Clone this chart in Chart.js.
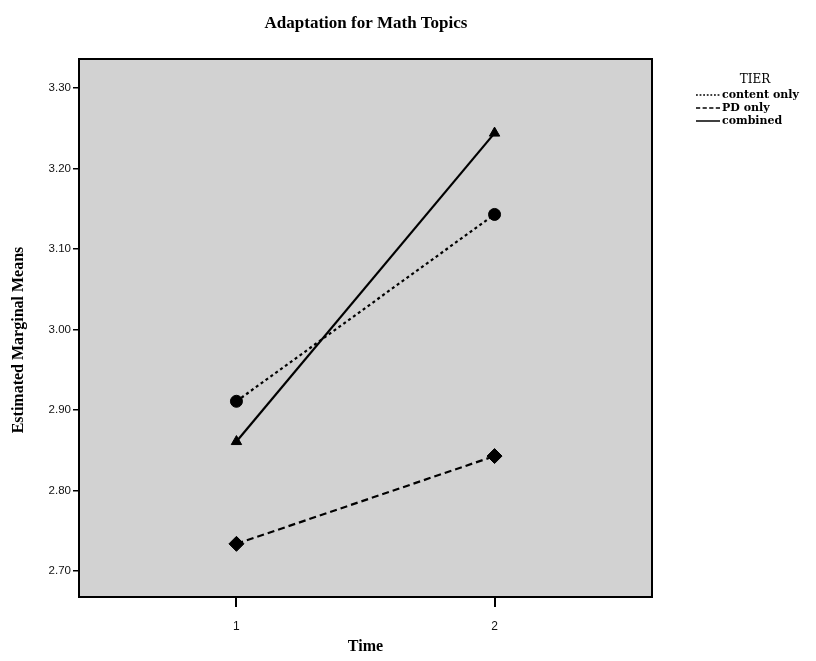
<!DOCTYPE html>
<html>
<head>
<meta charset="utf-8">
<script src="https://cdn.jsdelivr.net/npm/chart.js@4.4.1/dist/chart.umd.min.js"></script>
<style>
html,body{margin:0;padding:0;background:#fff;}
#wrap{width:816px;height:661px;position:relative;}
</style>
</head>
<body>
<div id="wrap"><canvas id="c" width="816" height="661"></canvas></div>
<script>
// ---- data ----
const chartTitle = 'Adaptation for Math Topics';
const xTitle = 'Time';
const yTitle = 'Estimated Marginal Means';
const legendTitle = 'TIER';
const timePoints = [1, 2];
const xTickLabels = ['1', '2'];
const yTickLabels = ['2.70', '2.80', '2.90', '3.00', '3.10', '3.20', '3.30'];
const seriesNames = ['content only', 'PD only', 'combined'];
const contentOnly = [2.911, 3.143];
const pdOnly = [2.734, 2.843];
const combined = [2.861, 3.244];

const styles = [
  {dash: [3, 3], point: 'circle', r: 6},
  {dash: [7, 4], point: 'rectRot', r: 7.5},
  {dash: [], point: 'triangle', r: 6}
];
const seriesValues = [contentOnly, pdOnly, combined];

const datasets = seriesNames.map((name, i) => ({
  label: name,
  data: timePoints.map((t, j) => ({x: t, y: seriesValues[i][j]})),
  borderColor: '#000',
  backgroundColor: '#000',
  borderWidth: 2.2,
  borderDash: styles[i].dash,
  pointStyle: styles[i].point,
  pointRadius: styles[i].r,
  pointBorderWidth: 1,
  showLine: true,
  fill: false,
  tension: 0
}));

const serif = '"Liberation Serif", "DejaVu Serif", serif';
const serif2 = '"DejaVu Serif", "Liberation Serif", serif';
const sans = '"Liberation Sans", Arial, sans-serif';

const decor = {
  id: 'decor',
  beforeDraw(chart) {
    const {ctx, chartArea: a} = chart;
    ctx.save();
    ctx.fillStyle = '#d2d2d2';
    ctx.fillRect(a.left, a.top, a.right - a.left, a.bottom - a.top);
    ctx.restore();
  },
  afterDraw(chart) {
    const {ctx, chartArea: a} = chart;
    ctx.save();
    ctx.strokeStyle = '#000';
    ctx.lineWidth = 2;
    ctx.setLineDash([]);
    ctx.strokeRect(a.left, a.top, a.right - a.left, a.bottom - a.top);
    // title
    ctx.fillStyle = '#000';
    ctx.font = 'bold 17px ' + serif;
    ctx.textAlign = 'center';
    ctx.textBaseline = 'middle';
    ctx.fillText(chartTitle, 366, 24);
    // y title
    ctx.save();
    ctx.translate(19, 340);
    ctx.rotate(-Math.PI / 2);
    ctx.font = 'bold 16px ' + serif;
    ctx.fillText(yTitle, 0, 0);
    ctx.restore();
    // legend
    ctx.font = '12px ' + serif2;
    ctx.fillText(legendTitle, 755, 80);
    ctx.font = 'bold 11px ' + serif2;
    ctx.textAlign = 'left';
    seriesNames.forEach((n, i) => {
      const y = 95 + i * 13;
      ctx.beginPath();
      ctx.lineWidth = 1.5;
      ctx.setLineDash(styles[i].dash.map(v => Math.max(1.5, v * 0.6)));
      ctx.moveTo(696, y);
      ctx.lineTo(720, y);
      ctx.stroke();
      ctx.setLineDash([]);
      ctx.fillText(n, 722, y);
    });
    ctx.restore();
  }
};

new Chart(document.getElementById('c'), {
  type: 'scatter',
  data: {datasets},
  options: {
    responsive: false,
    animation: false,
    devicePixelRatio: 1,
    layout: {padding: {left: 0, right: 164, top: 59, bottom: 0}},
    plugins: {legend: {display: false}, title: {display: false}, tooltip: {enabled: false}},
    scales: {
      x: {
        type: 'linear',
        min: 0.39,
        max: 2.61,
        afterBuildTicks: s => { s.ticks = timePoints.map(v => ({value: v})); },
        afterFit: s => { s.height = 64; },
        grid: {drawOnChartArea: false, color: '#000', tickLength: 10, tickWidth: 2, lineWidth: 2},
        border: {display: false},
        ticks: {
          color: '#111', font: {family: sans, size: 12}, padding: 12,
          callback: (v) => xTickLabels[timePoints.indexOf(v)] ?? ''
        },
        title: {display: true, text: xTitle, color: '#000', font: {family: serif, size: 16, weight: 'bold'}, padding: {top: 4, bottom: 5}}
      },
      y: {
        type: 'linear',
        min: 2.668,
        max: 3.336,
        afterBuildTicks: s => { s.ticks = yTickLabels.map(v => ({value: parseFloat(v)})); },
        afterFit: s => { s.width = 79; },
        grid: {drawOnChartArea: false, color: '#000', tickLength: 6, tickWidth: 1.5, lineWidth: 1.5},
        border: {display: false},
        ticks: {
          color: '#111', font: {family: sans, size: 11.5}, padding: 2,
          callback: (v) => { const k = yTickLabels.find(t => Math.abs(parseFloat(t) - v) < 1e-6); return k ?? ''; }
        },
        title: {display: false}
      }
    }
  },
  plugins: [decor]
});
</script>
</body>
</html>
